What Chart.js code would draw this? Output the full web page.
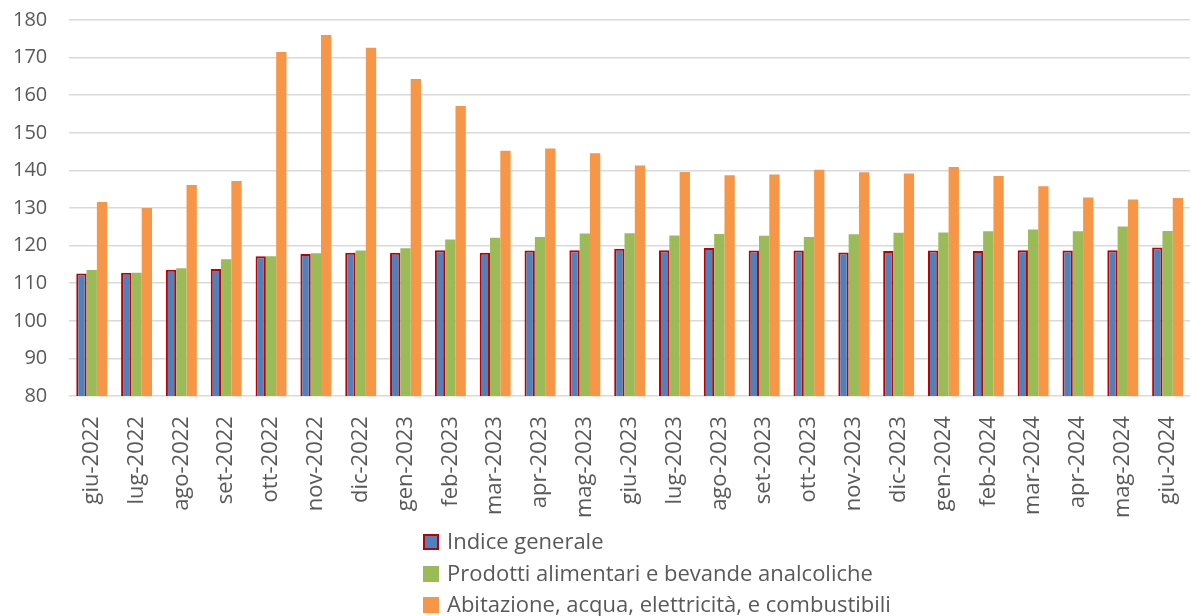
<!DOCTYPE html>
<html>
<head>
<meta charset="utf-8">
<script src="https://cdn.jsdelivr.net/npm/chart.js@4"></script>
<style>
  html, body { margin: 0; padding: 0; background: #fff; }
  #wrap { position: relative; width: 1192px; height: 616px; overflow: hidden; }
  #chart { position: absolute; left: 0; top: -14px; }
  #legend { position: absolute; left: 423px; top: 525px; font-family: "Open Sans", sans-serif; font-size: 22px; color: #595959; }
  #legend .item { height: 31.5px; line-height: 31.5px; white-space: nowrap; }
  #legend .box { display: inline-block; width: 16px; height: 16px; box-sizing: border-box; margin-right: 8px; vertical-align: -1px; }
</style>
</head>
<body>
<div id="wrap">
  <canvas id="chart" width="1206" height="630"></canvas>
  <div id="legend"></div>
</div>
<script>
const months = ['giu-2022', 'lug-2022', 'ago-2022', 'set-2022', 'ott-2022', 'nov-2022', 'dic-2022',
  'gen-2023', 'feb-2023', 'mar-2023', 'apr-2023', 'mag-2023', 'giu-2023', 'lug-2023', 'ago-2023',
  'set-2023', 'ott-2023', 'nov-2023', 'dic-2023', 'gen-2024', 'feb-2024', 'mar-2024', 'apr-2024',
  'mag-2024', 'giu-2024']

const indiceGenerale = [112.6, 112.8, 113.6, 113.8, 117.2, 117.8, 118.1, 118.1, 118.8, 118.1, 118.7, 118.8,
  119.2, 118.8, 119.4, 118.7, 118.7, 118.2, 118.6, 118.7, 118.6, 118.8, 118.7, 118.8, 119.5]

const alimentari = [113.5, 112.8, 114.0, 116.4, 117.2, 118.0, 118.7, 119.3, 121.6, 122.1, 122.3, 123.2,
  123.3, 122.7, 123.1, 122.6, 122.3, 123.0, 123.4, 123.5, 123.8, 124.3, 123.8, 125.1, 123.9]

const abitazione = [131.6, 130.0, 136.1, 137.2, 171.5, 176.0, 172.6, 164.3, 157.1, 145.2, 145.8, 144.6,
  141.3, 139.6, 138.7, 138.9, 140.2, 139.5, 139.2, 140.9, 138.5, 135.8, 132.8, 132.3, 132.7]

const yTicks = [80, 90, 100, 110, 120, 130, 140, 150, 160, 170, 180]

const seriesNames = ['Indice generale', 'Prodotti alimentari e bevande analcoliche',
  'Abitazione, acqua, elettricità, e combustibili']

const font = "'Open Sans', sans-serif"
const grey = '#595959'

const datasets = [
  { label: seriesNames[0], data: indiceGenerale, backgroundColor: '#4F81BD', borderColor: '#C00000', borderWidth: 2 },
  { label: seriesNames[1], data: alimentari, backgroundColor: '#9BBB59', borderWidth: 0 },
  { label: seriesNames[2], data: abitazione, backgroundColor: '#F79646', borderWidth: 0 }
]

const chart = new Chart(document.getElementById('chart'), {
  type: 'bar',
  data: { labels: months, datasets: datasets },
  options: {
    responsive: false,
    animation: false,
    layout: { padding: { top: -6, left: -9, right: 0, bottom: 86 } },
    datasets: { bar: { categoryPercentage: 0.69, barPercentage: 1.0, borderSkipped: false } },
    plugins: { legend: { display: false }, tooltip: { enabled: false } },
    scales: {
      x: {
        grid: { display: false },
        border: { display: false },
        ticks: { color: grey, font: { family: font, size: 22 }, minRotation: 90, maxRotation: 90, padding: 12 }
      },
      y: {
        min: 80,
        max: 180,
        afterBuildTicks: axis => { axis.ticks = yTicks.map(v => ({ value: v })) },
        grid: { color: '#D9D9D9', lineWidth: 1.5, drawTicks: false },
        border: { display: false },
        ticks: { color: grey, font: { family: font, size: 20 }, padding: 22 }
      }
    }
  }
})

// legend as a vertical list under the chart
const legend = document.getElementById('legend')
datasets.forEach(ds => {
  const item = document.createElement('div')
  item.className = 'item'
  const box = document.createElement('span')
  box.className = 'box'
  box.style.background = ds.backgroundColor
  if (ds.borderColor) box.style.border = `2px solid ${ds.borderColor}`
  item.appendChild(box)
  item.appendChild(document.createTextNode(ds.label))
  legend.appendChild(item)
})
</script>
</body>
</html>
